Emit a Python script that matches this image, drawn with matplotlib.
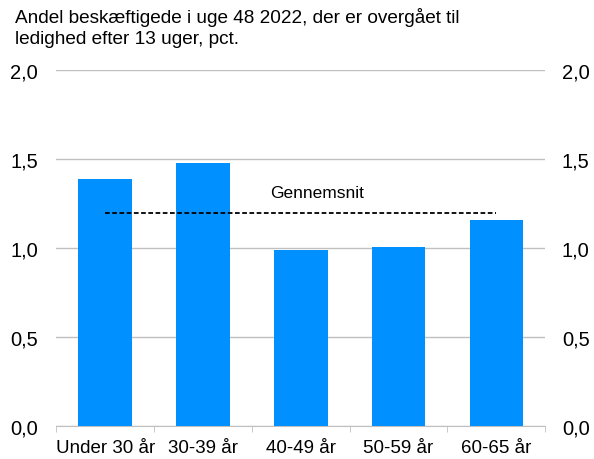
import matplotlib
matplotlib.use("Agg")
import matplotlib.pyplot as plt
from matplotlib.ticker import FuncFormatter, FixedLocator
import numpy as np

categories = ["Under 30 år", "30-39 år", "40-49 år", "50-59 år", "60-65 år"]
values = [1.39, 1.48, 0.99, 1.01, 1.16]
average = 1.20
title = "Andel beskæftigede i uge 48 2022, der er overgået til\nledighed efter 13 uger, pct."
avg_label = "Gennemsnit"
yticks = [0.0, 0.5, 1.0, 1.5, 2.0]

plt.rcParams['font.family'] = ['Liberation Sans', 'DejaVu Sans']

W, H = 594, 460
fig = plt.figure(figsize=(W / 100, H / 100), dpi=100)
left, right, bottom, top = 56.3, 545.3, 427.3, 71.3
ax = fig.add_axes([left / W, 1 - bottom / H, (right - left) / W, (bottom - top) / H])

bar_color = "#0090FF"
grid_color = "#C0C0C0"

x = np.arange(len(categories))
ax.bar(x, values, width=0.55, color=bar_color, zorder=3)
ax.plot([x[0], x[-1]], [average, average], color="black", linestyle=(0, (2.6, 1.4)),
        linewidth=1.3, zorder=4)
ax.text(2.17, 1.316, avg_label, ha="center", va="center", fontsize=12.5)

ax.set_xlim(-0.5, len(categories) - 0.5)
ax.set_ylim(0, 2.0)
ax.set_yticks(yticks)
fmt = FuncFormatter(lambda v, p: f"{v:.1f}".replace(".", ","))
ax.yaxis.set_major_formatter(fmt)
ax.yaxis.grid(True, color=grid_color, linewidth=1, zorder=0)
ax.tick_params(axis="y", length=0, labelsize=14.5, pad=13, labelcolor="black")

for s in ["left", "right", "top"]:
    ax.spines[s].set_visible(False)
ax.spines["bottom"].set_color(grid_color)
ax.spines["bottom"].set_zorder(1)

ax.set_xticks(x)
ax.set_xticklabels(categories, fontsize=13.5)
ax.tick_params(axis="x", which="major", length=0, pad=9)
ax.xaxis.set_minor_locator(FixedLocator(np.arange(-0.5, len(categories), 1.0)))
ax.tick_params(axis="x", which="minor", length=4, color=grid_color, direction="out")

ax2 = ax.twinx()
ax2.set_ylim(0, 2.0)
ax2.set_yticks(yticks)
ax2.yaxis.set_major_formatter(fmt)
ax2.tick_params(axis="y", length=0, labelsize=14.5, pad=12)
for s in ["left", "right", "top", "bottom"]:
    ax2.spines[s].set_visible(False)

fig.text(15 / W, 1 - 8 / H, title, ha="left", va="top", fontsize=13.7, linespacing=1.3)

fig.savefig("out.png", dpi=100)
